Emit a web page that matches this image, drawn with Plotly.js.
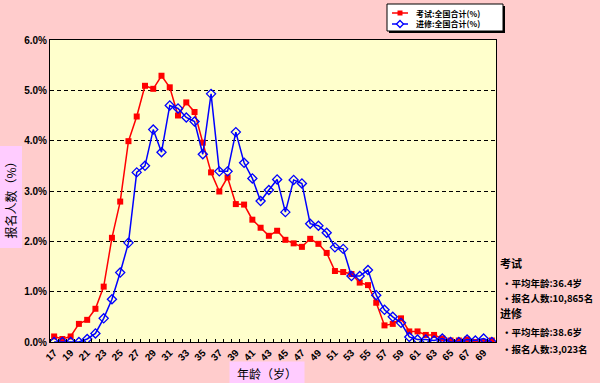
<!DOCTYPE html>
<html><head><meta charset="utf-8">
<script src="https://cdn.plot.ly/plotly-3.0.1.min.js"></script>
<style>html,body{margin:0;padding:0;background:#FFCCCC;}#chart{width:600px;height:383px;}</style>
</head><body><div id="chart"></div>
<script>
const ages = [17,18,19,20,21,22,23,24,25,26,27,28,29,30,31,32,33,34,35,36,37,38,39,40,41,42,43,44,45,46,47,48,49,50,51,52,53,54,55,56,57,58,59,60,61,62,63,64,65,66,67,68,69,70];
const examPct = [0.11,0.06,0.11,0.36,0.44,0.66,1.10,2.07,2.79,3.99,4.48,5.09,5.03,5.29,5.06,4.50,4.76,4.57,3.96,3.37,2.99,3.27,2.74,2.73,2.43,2.27,2.11,2.21,2.03,1.96,1.89,2.05,1.95,1.77,1.41,1.39,1.35,1.18,1.13,0.78,0.33,0.36,0.47,0.21,0.21,0.14,0.14,0.07,0.03,0.03,0.05,0.00,0.00,0.03];
const studyPct = [0.00,0.00,0.00,0.00,0.06,0.17,0.47,0.85,1.38,1.97,3.37,3.50,4.22,3.77,4.70,4.64,4.46,4.38,3.73,4.93,3.39,3.39,4.17,3.56,3.25,2.80,3.02,3.23,2.58,3.22,3.15,2.35,2.31,2.17,1.88,1.85,1.31,1.31,1.43,0.93,0.64,0.50,0.38,0.10,0.05,0.05,0.03,0.07,0.00,0.00,0.05,0.03,0.07,0.00];
const tickAges = [17,19,21,23,25,27,29,31,33,35,37,39,41,43,45,47,49,51,53,55,57,59,61,63,65,67,69];
const tickLabels = ['17','19','21','23','25','27','29','31','33','35','37','39','41','43','45','47','49','51','53','55','57','59','61','63','65','67','69'];
const seriesNames = ['考试:全国合计(%)','进修:全国合计(%)'];
const notes = ['考试','・平均年龄:36.4岁','・报名人数:10,865名','进修','・平均年龄:38.6岁','・报名人数:3,023名'];

const W = 600, H = 383, L = 50, R = 104, T = 40, B = 41;
const pw = W - L - R, ph = H - T - B;
const px = x => (x - L) / pw;
const py = y => (H - B - y) / ph;
const cjk = '"Noto Sans CJK SC", "Noto Sans", sans-serif';
const colors = ['#FF0000', '#0000FF'];

const traces = [
  {x: ages, y: examPct, name: seriesNames[0], type: 'scatter', mode: 'lines+markers',
   line: {color: colors[0], width: 1.5}, marker: {symbol: 'square', size: 6, color: colors[0]}},
  {x: ages, y: studyPct, name: seriesNames[1], type: 'scatter', mode: 'lines+markers',
   line: {color: colors[1], width: 1.5}, marker: {symbol: 'diamond-open', size: 7, color: colors[1], line: {width: 1.3}}}
];

const noteY = [263, 283, 298, 313, 332, 349];
const noteX = [498, 500, 500, 498, 500, 500];
const annotations = notes.map((t, i) => ({
  text: t, xref: 'paper', yref: 'paper', x: px(noteX[i]), y: py(noteY[i]),
  xanchor: 'left', yanchor: 'middle', showarrow: false,
  font: {family: cjk, size: (i === 0 || i === 3) ? 11 : 9.5, color: '#000', weight: 700}
}));
annotations.push({text: '年龄（岁）', xref: 'paper', yref: 'paper', x: px(267), y: py(373),
  xanchor: 'center', yanchor: 'middle', showarrow: false, width: 72, height: 20,
  bgcolor: '#FFCCFF', font: {family: cjk, size: 12, color: '#000'}});
annotations.push({text: '报名人数（%）', xref: 'paper', yref: 'paper', x: px(10), y: py(197.5),
  xanchor: 'center', yanchor: 'middle', showarrow: false, width: 99, height: 20, textangle: -90,
  bgcolor: '#FFCCFF', font: {family: cjk, size: 12, color: '#000'}});

// hand-drawn legend (compact like the original)
const legY = [13, 24];
const shapes = [
  {type: 'rect', xref: 'paper', yref: 'paper', x0: px(389), x1: px(505), y0: py(6), y1: py(33),
   fillcolor: '#000', line: {width: 0}},
  {type: 'rect', xref: 'paper', yref: 'paper', x0: px(387), x1: px(503), y0: py(4), y1: py(31),
   fillcolor: '#FFFFFF', line: {color: '#000', width: 1}}
];
seriesNames.forEach((n, i) => {
  shapes.push({type: 'line', xref: 'paper', yref: 'paper', x0: px(392), x1: px(408),
    y0: py(legY[i]), y1: py(legY[i]), line: {color: colors[i], width: 1.5}});
  annotations.push({text: n, xref: 'paper', yref: 'paper', x: px(414), y: py(legY[i]),
    xanchor: 'left', yanchor: 'middle', showarrow: false,
    font: {family: cjk, size: 8, color: '#000', weight: 700}});
});
shapes.push({type: 'rect', xref: 'paper', yref: 'paper', x0: px(397.5), x1: px(402.5),
  y0: py(legY[0] - 2.5), y1: py(legY[0] + 2.5), fillcolor: colors[0], line: {width: 0}});
const d = 3.5, cy = legY[1];
shapes.push({type: 'path', xref: 'paper', yref: 'paper',
  path: `M ${px(400 - d)} ${py(cy)} L ${px(400)} ${py(cy - d)} L ${px(400 + d)} ${py(cy)} L ${px(400)} ${py(cy + d)} Z`,
  fillcolor: '#FFFFFF', line: {color: colors[1], width: 1.3}});

const layout = {
  width: W, height: H,
  margin: {l: L, r: R, t: T, b: B},
  paper_bgcolor: '#FFCCCC', plot_bgcolor: '#FFFFCC',
  showlegend: false,
  xaxis: {range: [16.5, 70.5], tickvals: tickAges, ticktext: tickLabels, tickangle: -45,
    ticks: '', showgrid: false, zeroline: false, automargin: false,
    showline: true, linecolor: '#000', linewidth: 1, mirror: true,
    tickfont: {family: 'Liberation Sans, Arial, sans-serif', size: 10, color: '#000', weight: 700},
    minor: {tick0: 16.5, dtick: 1, ticks: 'inside', ticklen: 3, tickcolor: '#000', showgrid: false}},
  yaxis: {range: [0, 6], dtick: 1, tickformat: '.1f', ticksuffix: '%',
    ticks: 'inside', ticklen: 4, tickcolor: '#000', zeroline: false, automargin: false,
    showline: true, linecolor: '#000', linewidth: 1, mirror: true,
    showgrid: true, gridcolor: '#000', gridwidth: 1, griddash: '4px,3px',
    tickfont: {family: 'Liberation Sans, Arial, sans-serif', size: 10, color: '#000', weight: 700}},
  shapes: shapes,
  annotations: annotations
};

Plotly.newPlot('chart', traces, layout, {displayModeBar: false, staticPlot: true});
</script></body></html>
